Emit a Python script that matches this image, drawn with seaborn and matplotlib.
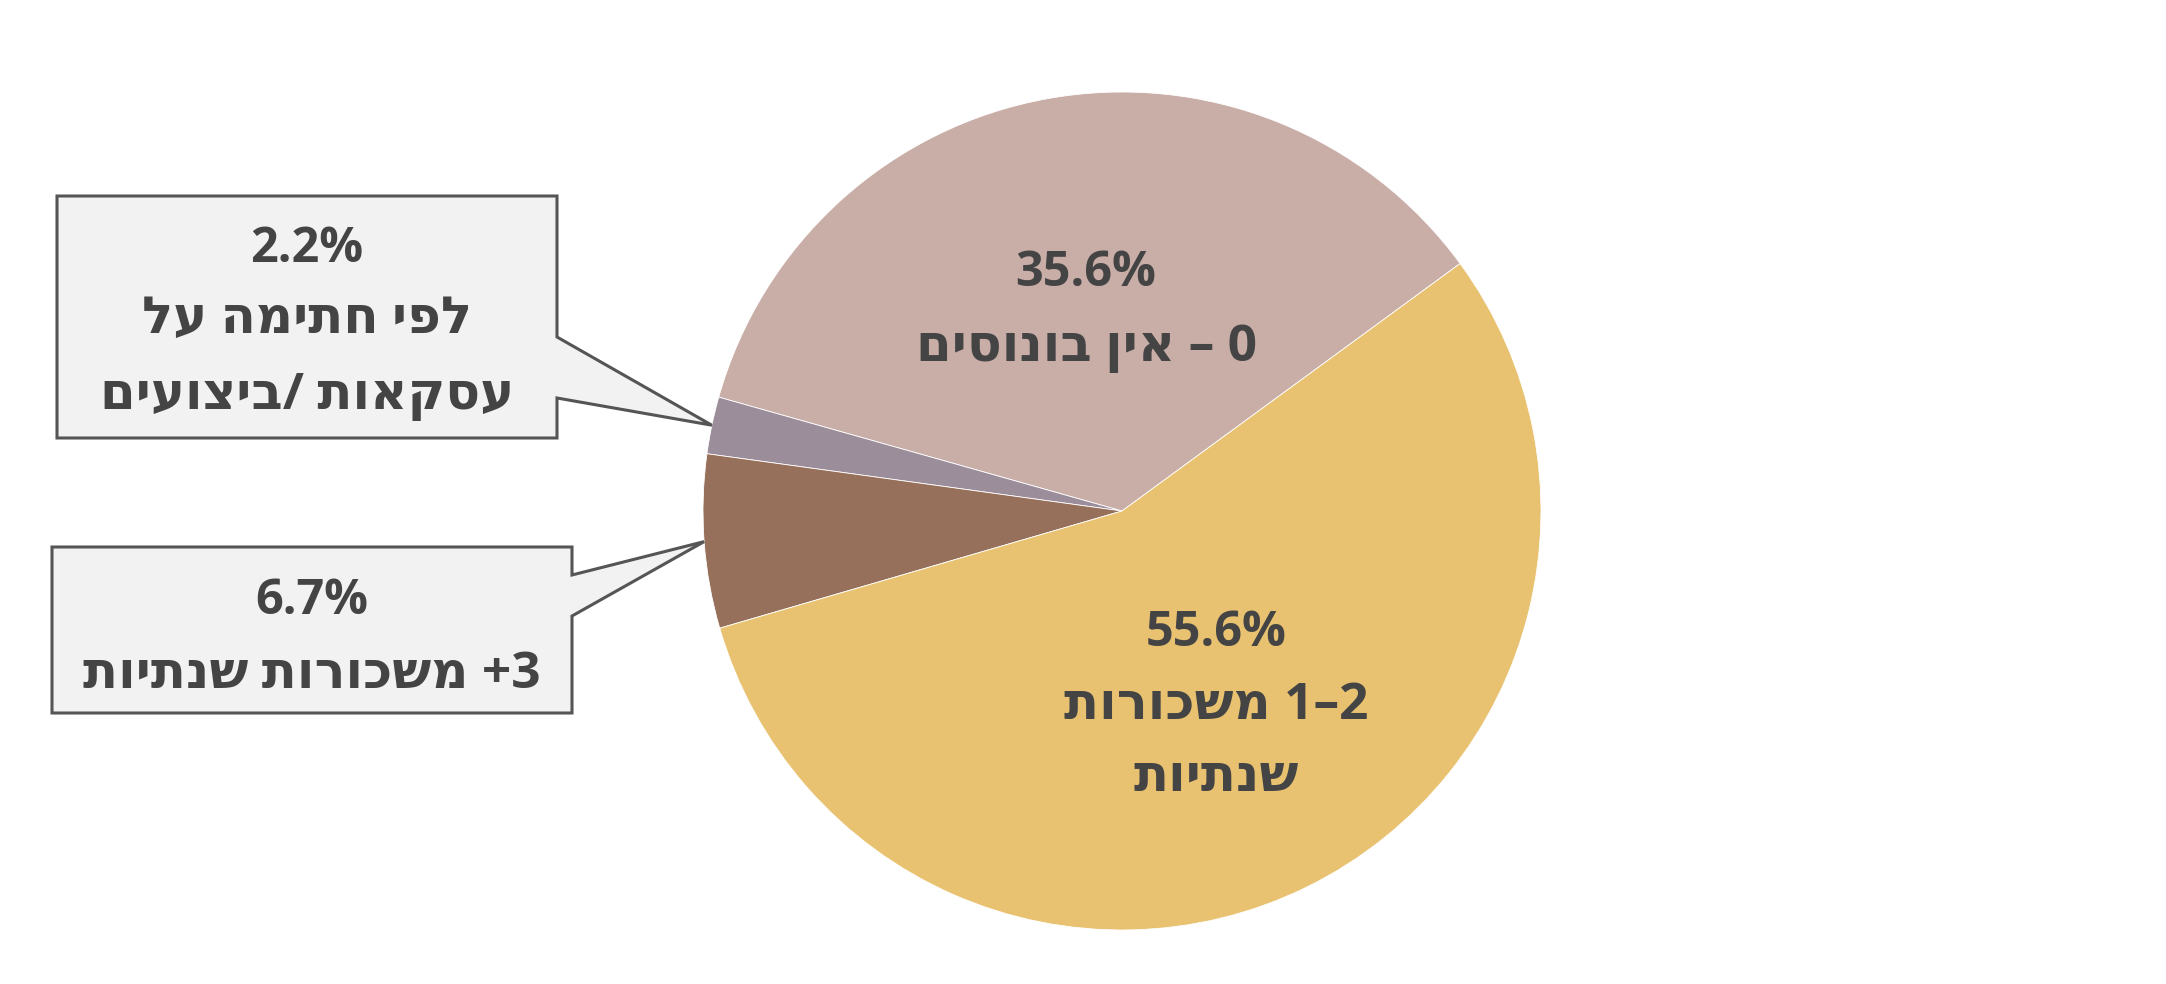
import numpy as np
import matplotlib
matplotlib.use("Agg")
import matplotlib.pyplot as plt
from matplotlib.patches import Polygon
import seaborn as sns

# slice data, counter-clockwise from the upper-right boundary
values = [35.6, 2.2, 6.7, 55.6]
pct_labels = ["35.6%", "2.2%", "6.7%", "55.6%"]
# logical (right-to-left) label text, one entry per line
names = [
    ["0 – אין בונוסים"],
    ["לפי חתימה על", "עסקאות /ביצועים"],
    ["3+ משכורות שנתיות"],
    ["1–2 משכורות", "שנתיות"],
]
colors = ["#C9ADA7", "#9C8D9B", "#96705A", "#E8C270"]

sns.set_theme(style="white")
plt.rcParams["font.family"] = ["Open Sans", "DejaVu Sans"]

TXT = "#444444"
FS_PCT = 35
FS_HEB = 37


def visual(s):
    # crude bidi: flip the line, then put number runs back in reading order
    out = s[::-1]
    res, run = "", ""
    for ch in out:
        if ch.isdigit() or (run and ch in "–."):
            run += ch
        else:
            if run:
                res += run[::-1]
                run = ""
            res += ch
    if run:
        res += run[::-1]
    return res


W, H = 2166, 984
fig = plt.figure(figsize=(W / 100, H / 100), dpi=100)
ax = fig.add_axes([0, 0, 1, 1])

cx, cy, R = 1122, 473, 419
wedges, _ = ax.pie(values, colors=colors, startangle=36.2, counterclock=True,
                   center=(cx, cy), radius=R,
                   wedgeprops=dict(linewidth=0.6, edgecolor="white"))
ax.set_xlim(0, W)
ax.set_ylim(0, H)
ax.set_aspect("equal")
ax.axis("off")


def block(x, ys, pct, lines):
    # first line is the percentage, the rest are the Hebrew name lines
    ax.text(x, H - ys[0], pct, ha="center", va="center", fontsize=FS_PCT,
            fontweight="bold", color=TXT, zorder=4)
    for y, ln in zip(ys[1:], lines):
        ax.text(x, H - y, visual(ln), ha="center", va="center", fontsize=FS_HEB,
                fontweight="bold", color=TXT, zorder=4)


def tip(w):
    a = np.deg2rad((w.theta1 + w.theta2) / 2)
    return cx + R * np.cos(a), cy + R * np.sin(a)


def callout(x0, x1, top, bot, b0, b1, pt):
    poly = [(x0, top), (x1, top), (x1, b0), pt, (x1, b1), (x1, bot), (x0, bot)]
    ax.add_patch(Polygon(poly, closed=True, facecolor="#F2F2F2",
                         edgecolor="#555555", linewidth=2.2, zorder=3))


# labels inside the big slices
block(1086, [273, 348], pct_labels[0], names[0])
block(1216, [634, 706, 778], pct_labels[3], names[3])

# small slices get boxed callouts on the left
callout(57, 557, H - 196, H - 438, H - 337, H - 398, tip(wedges[1]))
callout(52, 572, H - 547, H - 713, H - 575, H - 616, tip(wedges[2]))
block(307, [250, 320, 396], pct_labels[1], names[1])
block(312, [601, 675], pct_labels[2], names[2])

fig.savefig("out.png", dpi=100, facecolor="white")
